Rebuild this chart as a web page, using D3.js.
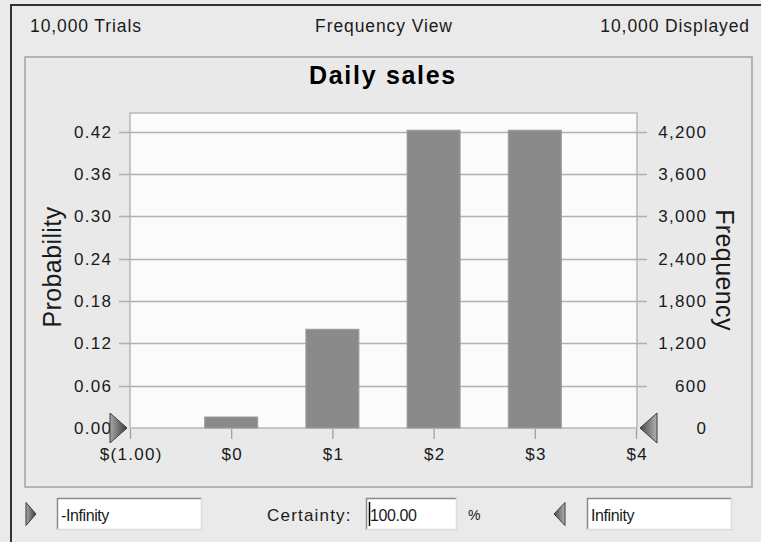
<!DOCTYPE html>
<html>
<head>
<meta charset="utf-8">
<script src="https://cdn.jsdelivr.net/npm/d3@7"></script>
<style>
  html, body { margin: 0; padding: 0; background: #eaeaea; }
  svg { display: block; }
  text { font-family: "Liberation Sans", Arial, sans-serif; fill: #1a1a1a; }
</style>
</head>
<body>
<svg id="chart" width="761" height="542"></svg>
<script>
// ---- data ----
const chartTitle = "Daily sales";
const headerLeft = "10,000 Trials";
const headerCenter = "Frequency View";
const headerRight = "10,000 Displayed";
const totalTrials = 10000;
const binCenters = [0, 1, 2, 3];
const binLabels = ["$0", "$1", "$2", "$3"];
const frequencies = [156, 1400, 4222, 4222];
const xTickValues = [-1, 0, 1, 2, 3, 4];
const xTickLabels = ["$(1.00)", "$0", "$1", "$2", "$3", "$4"];
const probTicks = [0, 0.06, 0.12, 0.18, 0.24, 0.30, 0.36, 0.42];
const freqTicks = [0, 600, 1200, 1800, 2400, 3000, 3600, 4200];
const leftBoxText = "-Infinity";
const rightBoxText = "Infinity";
const certaintyValue = "100.00";

// ---- layout ----
const svg = d3.select("#chart");
const plot = { left: 130, right: 637, top: 113, bottom: 428 };
const x = d3.scaleLinear().domain([-1, 4]).range([130, 636]);
const yProb = d3.scaleLinear().domain([0, 0.4466]).range([plot.bottom, plot.top]);
const yFreq = d3.scaleLinear().domain([0, 4466]).range([plot.bottom, plot.top]);

const defs = svg.append("defs");
const g1 = defs.append("linearGradient").attr("id", "triR").attr("x1", 0).attr("y1", 0).attr("x2", 1).attr("y2", 0);
g1.append("stop").attr("offset", "0%").attr("stop-color", "#a8a8a8");
g1.append("stop").attr("offset", "100%").attr("stop-color", "#3a3a3a");
const g2 = defs.append("linearGradient").attr("id", "triL").attr("x1", 1).attr("y1", 0).attr("x2", 0).attr("y2", 0);
g2.append("stop").attr("offset", "0%").attr("stop-color", "#b0b0b0");
g2.append("stop").attr("offset", "100%").attr("stop-color", "#4a4a4a");

// outer window frame
svg.append("path").attr("d", "M11,542 V5 H761").attr("fill", "none").attr("stroke", "#333").attr("stroke-width", 2);

// header texts
const hdr = svg.append("g").style("font-size", "17.5px").style("letter-spacing", "0.9px");
hdr.append("text").attr("x", 30).attr("y", 32).text(headerLeft);
hdr.append("text").attr("x", 384).attr("y", 32).attr("text-anchor", "middle").text(headerCenter);
hdr.append("text").attr("x", 750).attr("y", 32).attr("text-anchor", "end").text(headerRight);

// panel frame
svg.append("rect").attr("x", 25).attr("y", 57).attr("width", 727).attr("height", 430)
  .attr("fill", "#e9e9e9").attr("stroke", "#a2a2a2").attr("stroke-width", 1.5);

// title
svg.append("text").attr("x", 383).attr("y", 84).attr("text-anchor", "middle")
  .style("font-size", "25px").style("font-weight", "bold").style("letter-spacing", "1.7px")
  .style("fill", "#000").text(chartTitle);

// plot background
svg.append("rect").attr("x", plot.left).attr("y", plot.top)
  .attr("width", plot.right - plot.left).attr("height", plot.bottom - plot.top)
  .attr("fill", "#fbfbfb").attr("stroke", "#b8b8b8").attr("stroke-width", 1.5);

// gridlines (extend past the plot as ticks)
svg.append("g").selectAll("line").data(probTicks.filter(d => d > 0)).join("line")
  .attr("x1", plot.left - 11).attr("x2", plot.right + 10)
  .attr("y1", d => Math.round(yProb(d)) + 0.5).attr("y2", d => Math.round(yProb(d)) + 0.5)
  .attr("stroke", "#b0b0b0").attr("stroke-width", 1.3);

// bars
const barHalf = 0.262;
svg.append("g").selectAll("rect").data(frequencies).join("rect")
  .attr("x", (d, i) => x(binCenters[i] - barHalf))
  .attr("width", (d, i) => x(binCenters[i] + barHalf) - x(binCenters[i] - barHalf))
  .attr("y", d => yProb(d / totalTrials))
  .attr("height", d => plot.bottom - yProb(d / totalTrials))
  .attr("fill", "#8a8a8a").attr("stroke", "#9c9c9c").attr("stroke-width", 1);

const tickFont = "17px", tickSpacing = "1.3px";

// left axis (probability)
const leftAxis = d3.axisLeft(yProb).tickValues(probTicks).tickFormat(d3.format(".2f")).tickSize(0).tickPadding(0);
const la = svg.append("g").attr("transform", `translate(111,0)`).call(leftAxis);
la.select(".domain").remove();
la.selectAll("text").style("font-size", tickFont).style("letter-spacing", tickSpacing)
  .style("font-family", "'Liberation Sans', Arial, sans-serif").attr("fill", "#1a1a1a").attr("dx", tickSpacing);

// right axis (frequency)
const rightAxis = d3.axisRight(yFreq).tickValues(freqTicks).tickFormat(d3.format(",")).tickSize(0).tickPadding(0);
const ra = svg.append("g").attr("transform", `translate(706,0)`).call(rightAxis);
ra.select(".domain").remove();
ra.selectAll("text").attr("text-anchor", "end").attr("x", 0).style("font-size", tickFont).style("letter-spacing", tickSpacing)
  .style("font-family", "'Liberation Sans', Arial, sans-serif").attr("fill", "#1a1a1a").attr("dx", tickSpacing);

// bottom axis
const bottomAxis = d3.axisBottom(x).tickValues(xTickValues).tickFormat((d, i) => xTickLabels[i]).tickSize(10).tickPadding(9);
const ba = svg.append("g").attr("transform", `translate(0,${plot.bottom + 1})`).call(bottomAxis);
ba.select(".domain").remove();
ba.selectAll(".tick line").attr("stroke", "#a0a0a0").attr("stroke-width", 1.3);
ba.selectAll("text").style("font-size", tickFont).style("letter-spacing", tickSpacing)
  .style("font-family", "'Liberation Sans', Arial, sans-serif").attr("fill", "#1a1a1a").attr("dx", "0.65px");

// axis titles
svg.append("text").attr("transform", "translate(61,267) rotate(-90)").attr("text-anchor", "middle")
  .style("font-size", "25px").style("letter-spacing", "0.4px").text("Probability");
svg.append("text").attr("transform", "translate(716,270) rotate(90)").attr("text-anchor", "middle")
  .style("font-size", "25px").style("letter-spacing", "0.4px").text("Frequency");

// grab handles on the plot
function triRight(tipX, cy, w, h) { return `M${tipX - w},${cy - h / 2} L${tipX},${cy} L${tipX - w},${cy + h / 2} Z`; }
function triLeft(tipX, cy, w, h) { return `M${tipX + w},${cy - h / 2} L${tipX},${cy} L${tipX + w},${cy + h / 2} Z`; }
svg.append("path").attr("d", triRight(x(-1) - 3, plot.bottom, 17, 30)).attr("fill", "url(#triR)").attr("stroke", "#3a3a3a").attr("stroke-width", 1);
svg.append("path").attr("d", triLeft(x(4) + 4, plot.bottom, 17, 30)).attr("fill", "url(#triL)").attr("stroke", "#3a3a3a").attr("stroke-width", 1);

// bottom control row
const rowCy = 514;
svg.append("path").attr("d", triRight(36, rowCy, 10, 23)).attr("fill", "url(#triR)").attr("stroke", "#3a3a3a").attr("stroke-width", 1);
svg.append("path").attr("d", triLeft(554, rowCy, 11, 23)).attr("fill", "url(#triL)").attr("stroke", "#3a3a3a").attr("stroke-width", 1);

function inputBox(x0, w, txt) {
  const g = svg.append("g");
  g.append("rect").attr("x", x0).attr("y", 498).attr("width", w).attr("height", 32).attr("fill", "#fff");
  g.append("path").attr("d", `M${x0 + 0.5},${530} V${498.5} H${x0 + w}`).attr("fill", "none").attr("stroke", "#8a8a8a").attr("stroke-width", 1.5);
  g.append("path").attr("d", `M${x0 + w - 0.5},${498} V${529.5} H${x0}`).attr("fill", "none").attr("stroke", "#dcdcdc").attr("stroke-width", 1.5);
  g.append("text").attr("x", x0 + 4).attr("y", 521).style("font-size", "16px").style("letter-spacing", "-0.4px").text(txt);
  return g;
}
inputBox(57, 145, leftBoxText);
const cb = inputBox(366, 91, certaintyValue);
cb.append("line").attr("x1", 369.5).attr("x2", 369.5).attr("y1", 502).attr("y2", 526).attr("stroke", "#000").attr("stroke-width", 1.5);
inputBox(587, 145, rightBoxText);

const ctl = svg.append("g").style("font-size", "17px").style("letter-spacing", "1.2px");
ctl.append("text").attr("x", 267).attr("y", 521).text("Certainty:");
ctl.append("text").attr("x", 468).attr("y", 520).style("font-size", "14px").style("letter-spacing", "0px").text("%");
</script>
</body>
</html>
